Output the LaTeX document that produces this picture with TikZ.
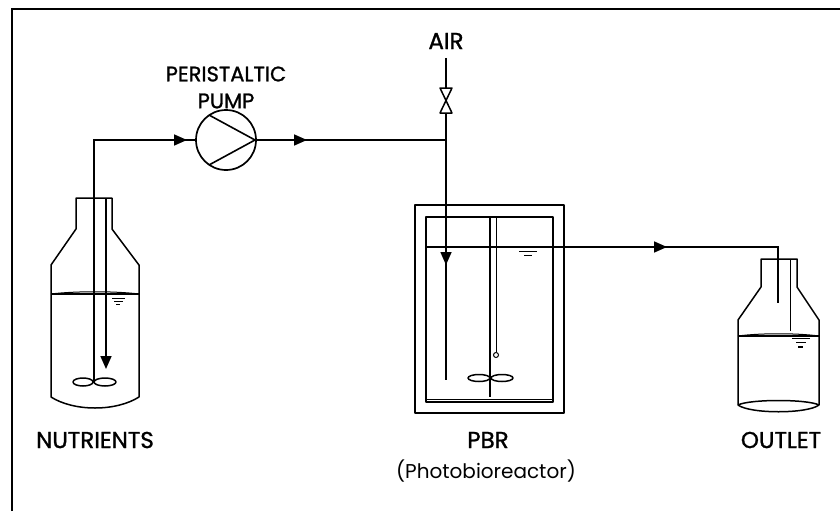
\documentclass[tikz,border=0pt]{standalone}
\usepackage{fontspec}
\setmainfont{Poppins}
\newfontfamily\capsfont[FakeBold=1.2]{Poppins}
\usetikzlibrary{arrows.meta, positioning, calc}
\tikzset{
  pipe/.style={line width=1.6pt},
  wall/.style={line width=1.5pt, line join=round},
  thinpipe/.style={line width=1pt},
  flowtip/.style={-{Triangle[length=13pt,width=11pt]}},
  caption/.style={font=\capsfont\fontsize{23}{26}\selectfont, inner sep=0pt},
  pumpcaption/.style={font=\capsfont\fontsize{21}{24}\selectfont, inner sep=0pt},
  longcaption/.style={font=\fontsize{20}{24}\selectfont, inner sep=0pt},
}
\begin{document}
\begin{tikzpicture}[x=1pt,y=-1pt]
  \useasboundingbox (0,0) rectangle (840,511);
  \draw[line width=1.8pt] (12,511) -- (12,9) -- (840,9);

  % Nutrients bottle
  \draw[wall] (76,198) -- (76,229) -- (51,265) -- (51,397)
    .. controls (62,404) and (78,408) .. (95,408)
    .. controls (112,408) and (128,404) .. (139,397)
    -- (139,265) -- (112,229) -- (112,198) -- cycle;
  \draw[thinpipe] (51,294) .. controls (75,291) and (115,291) .. (139,294);
  \draw[wall] (51,294) -- (139,294);
  \draw[thinpipe] (112,298) -- (125,298) (114,301) -- (123,301) (116,304) -- (120,304);
  \draw[wall] (83,382) ellipse (10 and 4) (105,382) ellipse (11 and 4);

  % Feed line
  \coordinate (feedend) at (94,382);
  \coordinate (feedcorner) at (94,140);
  \node[circle, draw, line width=1.7pt, minimum size=60pt, inner sep=0pt] (pump) at (226,140) {};
  \coordinate (tee) at (446,140);
  \draw[pipe] (feedend) -- (feedcorner) -- (pump.west);
  \draw[pipe] (pump.east) -- (tee);
  \draw[pipe, flowtip] (173,140) -- (187,140);
  \draw[pipe, flowtip] (293,140) -- (307,140);
  \draw[pipe, flowtip] (106,198) -- (106,369);
  \draw[pipe] (209,115) -- (255,140) -- (209,165);

  % Air line and valve
  \node[caption] (air) at (446,41) {AIR};
  \coordinate (airtop) at (446,58);
  \coordinate (dropend) at (446,380);
  \draw[pipe] (airtop) -- (446,88);
  \draw[wall] (440,88) -- (452,88) -- (440,113) -- (452,113) -- cycle;
  \draw[pipe] (446,113) -- (dropend);
  \draw[pipe, flowtip] (446,250) -- (446,265);

  % Photobioreactor
  \draw[wall] (415,205) rectangle (564,413);
  \draw[wall] (426,217) rectangle (553,402);
  \draw[line width=0.6pt] (426,399.5) -- (553,399.5);
  \draw[pipe] (490,217) -- (490,397);
  \draw[thinpipe] (496,217) -- (496,352);
  \draw[thinpipe] (496,355) circle (2.5);
  \draw[wall] (479,378) ellipse (11 and 3.5) (502,378) ellipse (11 and 3.5);
  \draw[thinpipe] (519,251) -- (537,251) (524,255) -- (532,255);

  % Overflow line
  \coordinate (levelstart) at (426,247);
  \coordinate (overend) at (778,303);
  \draw[pipe] (levelstart) -- (778,247) -- (overend);
  \draw[pipe, flowtip] (652,247) -- (667,247);

  % Outlet bottle
  \draw[wall] (761,259) -- (761,287) -- (738,320) -- (738,405)
    .. controls (750,414) and (807,414) .. (819,405)
    -- (819,320) -- (797,287) -- (797,259) -- cycle;
  \draw[wall] (738,405) .. controls (750,399) and (807,399) .. (819,405);
  \draw[wall] (738,336) -- (819,336);
  \draw[thinpipe] (738,336) .. controls (760,333) and (797,333) .. (819,336);
  \draw[line width=0.8pt] (790,259) -- (790,331);
  \draw[thinpipe] (792,338) -- (810,338) (796,342) -- (806,342);
  \draw[pipe] (798,347) -- (803,347);

  % Labels
  \node[pumpcaption] (pumpname) at (226,74) {PERISTALTIC};
  \node[pumpcaption] (pumpname2) at (226,101) {PUMP};
  \node[caption] (nutrients) at (95,440) {NUTRIENTS};
  \node[caption] (pbr) at (488,440) {PBR};
  \node[longcaption] (pbrlong) at (486,471) {(Photobioreactor)};
  \node[caption] (outlet) at (781,440) {OUTLET};
\end{tikzpicture}
\end{document}
